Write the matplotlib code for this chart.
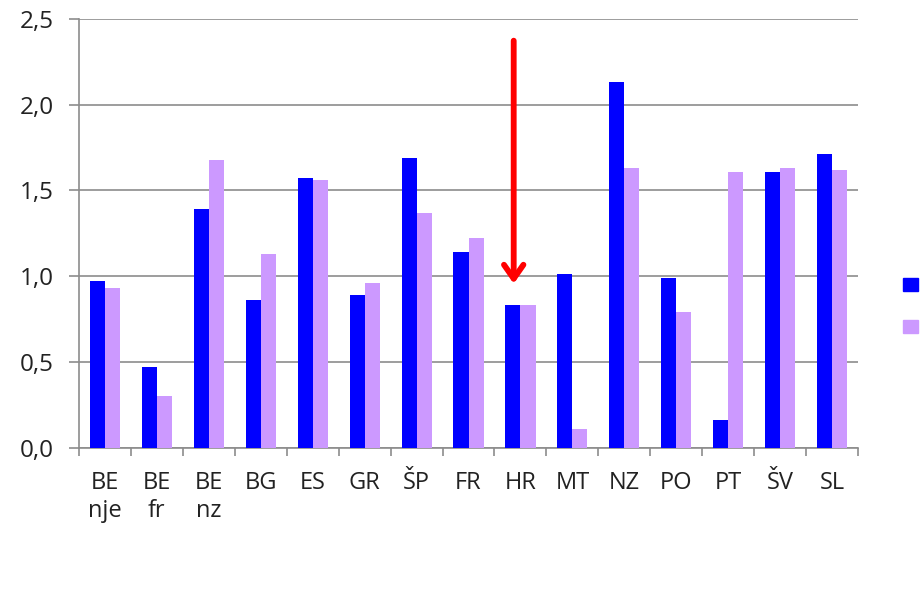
import numpy as np
import matplotlib
matplotlib.use("Agg")
import matplotlib.pyplot as plt
from matplotlib.patches import Patch

# podaci
kategorije = ["BE\nnje", "BE\nfr", "BE\nnz", "BG", "ES", "GR", "ŠP", "FR",
              "HR", "MT", "NZ", "PO", "PT", "ŠV", "SL"]
serija_1 = [0.97, 0.47, 1.39, 0.86, 1.57, 0.89, 1.69, 1.14,
            0.83, 1.01, 2.13, 0.99, 0.16, 1.61, 1.71]
serija_2 = [0.93, 0.30, 1.68, 1.13, 1.56, 0.96, 1.37, 1.22,
            0.83, 0.11, 1.63, 0.79, 1.61, 1.63, 1.62]
strelica_kat = "HR"
strelica_od, strelica_do = 2.39, 0.94

plava = "#0000FF"
ljubicasta = "#CC99FF"
siva = "#8C8C8C"

plt.rcParams["font.family"] = ["Open Sans", "DejaVu Sans"]

fig = plt.figure(figsize=(9.24, 6.14), dpi=100)
ax = fig.add_axes([0.0855, 0.2709, 0.8431, 0.6981])

x = np.arange(len(kategorije))
w = 0.29
ax.bar(x - w / 2, serija_1, w, color=plava, zorder=3)
ax.bar(x + w / 2, serija_2, w, color=ljubicasta, zorder=3)

ax.set_xlim(-0.5, len(kategorije) - 0.5)
ax.set_ylim(0, 2.5)
ax.set_yticks(np.arange(0, 2.51, 0.5))
ax.set_yticklabels([f"{v:.1f}".replace(".", ",") for v in np.arange(0, 2.51, 0.5)])
ax.yaxis.grid(True, color=siva, lw=1.2, zorder=0)

ax.set_xticks(x)
ax.set_xticklabels(kategorije, linespacing=1.2, va="top")
ax.set_xticks(np.arange(-0.5, len(kategorije), 1), minor=True)
ax.tick_params(axis="x", which="major", length=0, pad=17, labelsize=17, colors="#222222")
ax.tick_params(axis="x", which="minor", length=6, width=1.2, color=siva, direction="out")
ax.tick_params(axis="y", length=7, width=1.2, color=siva, pad=11, labelsize=17.5,
               labelcolor="#222222")

for s in ["top", "right"]:
    ax.spines[s].set_visible(False)
for s in ["left", "bottom"]:
    ax.spines[s].set_color(siva)
    ax.spines[s].set_linewidth(1.2)

# crvena strelica
xi = kategorije.index(strelica_kat) - 0.13
ax.annotate("", xy=(xi, strelica_do), xytext=(xi, strelica_od),
            arrowprops=dict(arrowstyle="->,head_length=1.0,head_width=0.7",
                            color="red", lw=4.2), zorder=5)

fig.legend(handles=[Patch(color=plava), Patch(color=ljubicasta)], labels=["", ""],
           loc="upper left", bbox_to_anchor=(0.977, 0.547), frameon=False,
           handlelength=1.1, handleheight=1.1, labelspacing=1.9, handletextpad=0.2,
           borderpad=0, borderaxespad=0)

fig.savefig("out.png", dpi=100)
